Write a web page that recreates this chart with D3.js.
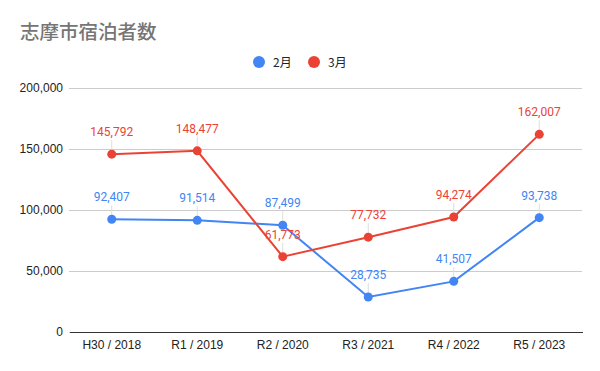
<!DOCTYPE html>
<html>
<head>
<meta charset="utf-8">
<script src="https://cdn.jsdelivr.net/npm/d3@7"></script>
<style>
  html, body { margin: 0; padding: 0; background: #fff; }
  svg { display: block; }
</style>
</head>
<body>
<svg id="chart" width="600" height="371"></svg>
<script>
const categories = ["H30 / 2018", "R1 / 2019", "R2 / 2020", "R3 / 2021", "R4 / 2022", "R5 / 2023"];
const seriesNames = ["2月", "3月"];
const febValues = [92407, 91514, 87499, 28735, 41507, 93738];
const marValues = [145792, 148477, 61773, 77732, 94274, 162007];
const yTicks = [0, 50000, 100000, 150000, 200000];
const colors = ["#4285F4", "#EA4335"];
const title = "志摩市宿泊者数";

const series = [
  { name: seriesNames[0], values: febValues, color: colors[0] },
  { name: seriesNames[1], values: marValues, color: colors[1] }
];

const svg = d3.select("#chart");
const W = 600, H = 371;
const margin = { left: 69, right: 18, top: 88, bottom: 39 };

svg.append("rect").attr("width", W).attr("height", H).attr("fill", "#fff");

const x = d3.scaleBand().domain(categories).range([margin.left, W - margin.right]).padding(0);
const y = d3.scaleLinear().domain([0, 200000]).range([H - margin.bottom, margin.top]);

const fmt = d3.format(",");
const numFont = "Roboto, Arial, sans-serif";
const axisFont = "'Liberation Sans', Arial, sans-serif";
const cjkFont = "'Noto Sans CJK JP', 'Noto Sans', sans-serif";

// Title
svg.append("text")
  .attr("x", 20).attr("y", 39)
  .attr("font-family", cjkFont)
  .attr("font-size", 19.5)
  .attr("font-weight", 500)
  .attr("fill", "#757575")
  .text(title);

// Gridlines + y axis labels
const yAxis = d3.axisLeft(y).tickValues(yTicks).tickSize(-(W - margin.left - margin.right)).tickFormat(fmt).tickPadding(6);
const gy = svg.append("g").attr("transform", `translate(${margin.left},0)`).call(yAxis);
gy.select(".domain").remove();
gy.selectAll(".tick line").attr("stroke", "#cccccc").attr("stroke-width", 1).attr("shape-rendering", "crispEdges");
gy.selectAll(".tick text")
  .attr("font-family", axisFont).attr("font-size", 12).attr("fill", "#222222");

// X axis
const xAxis = d3.axisBottom(x).tickSize(0).tickPadding(8);
const gx = svg.append("g").attr("transform", `translate(0,${y(0)})`).call(xAxis);
gx.select(".domain").attr("stroke", "#333333").attr("stroke-width", 1).attr("shape-rendering", "crispEdges");
gx.selectAll(".tick text")
  .attr("font-family", axisFont).attr("font-size", 12).attr("fill", "#222222");

const cx = c => x(c) + x.bandwidth() / 2;

// Leader lines
series.forEach(s => {
  svg.append("g").selectAll("line")
    .data(s.values)
    .join("line")
    .attr("x1", (d, i) => cx(categories[i]))
    .attr("x2", (d, i) => cx(categories[i]))
    .attr("y1", d => y(d) - 4)
    .attr("y2", d => y(d) - 14)
    .attr("stroke", "#dddddd")
    .attr("stroke-width", 1);
});

// Lines and points
const line = d3.line().x((d, i) => cx(categories[i])).y(d => y(d));
series.forEach(s => {
  svg.append("path")
    .datum(s.values)
    .attr("d", line)
    .attr("fill", "none")
    .attr("stroke", s.color)
    .attr("stroke-width", 2);
});
series.forEach(s => {
  svg.append("g").selectAll("circle")
    .data(s.values)
    .join("circle")
    .attr("cx", (d, i) => cx(categories[i]))
    .attr("cy", d => y(d))
    .attr("r", 4.5)
    .attr("fill", s.color);
});

// Data labels
series.forEach(s => {
  svg.append("g").selectAll("text")
    .data(s.values)
    .join("text")
    .attr("x", (d, i) => cx(categories[i]))
    .attr("y", d => y(d) - 18)
    .attr("text-anchor", "middle")
    .attr("font-family", numFont)
    .attr("font-size", 12)
    .attr("fill", s.color)
    .text(d => fmt(d));
});

// Legend
const legendX = [259, 314];
series.forEach((s, i) => {
  svg.append("circle").attr("cx", legendX[i]).attr("cy", 62).attr("r", 6).attr("fill", s.color);
  svg.append("text")
    .attr("x", legendX[i] + 14).attr("y", 66.5)
    .attr("font-family", cjkFont)
    .attr("font-size", 12)
    .attr("fill", "#222222")
    .text(s.name);
});
</script>
</body>
</html>
